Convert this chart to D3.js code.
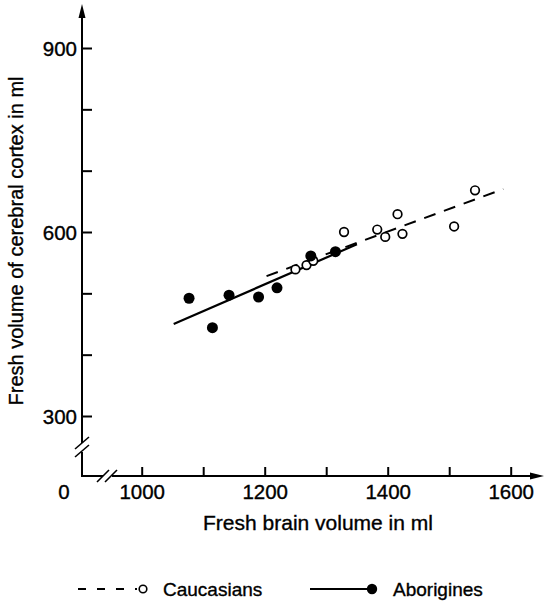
<!DOCTYPE html>
<html>
<head>
<meta charset="utf-8">
<script src="https://cdn.jsdelivr.net/npm/d3@7"></script>
<style>
  html, body { margin: 0; padding: 0; background: #fff; }
  svg { display: block; }
  text { font-family: "Liberation Sans", Arial, Helvetica, sans-serif; fill: #000; stroke: #000; stroke-width: 0.35px; }
</style>
</head>
<body>
<svg id="chart" width="545" height="602"></svg>
<script>
// ---- Data ----
const caucasianX = [1250, 1268, 1279, 1329, 1383, 1396, 1416, 1424, 1508, 1542];
const caucasianY = [539, 546, 553, 600, 604, 592, 629, 597, 609, 668];
const aborigineX = [1077, 1115, 1142, 1190, 1220, 1275, 1315];
const aborigineY = [492, 444, 497, 494, 509, 561, 568];
const caucasianFitX = [1203, 1588];
const caucasianFitY = [528, 670];
const aborigineFitX = [1052, 1350];
const aborigineFitY = [450, 580];
const xTicks = [1000, 1100, 1200, 1300, 1400, 1500, 1600];
const xTickLabels = ["1000", "", "1200", "", "1400", "", "1600"];
const yTicks = [300, 400, 500, 600, 700, 800, 900];
const yTickLabels = ["300", "", "", "600", "", "", "900"];
const seriesNames = ["Caucasians", "Aborigines"];
const xTitle = "Fresh brain volume in ml";
const yTitle = "Fresh volume of cerebral cortex in ml";

// ---- Layout ----
const svg = d3.select("#chart");
const axisX0 = 82, axisY0 = 476;
const x = d3.scaleLinear().domain([1000, 1600]).range([141.7, 510.7]);
const y = d3.scaleLinear().domain([300, 900]).range([416, 48]);
const ink = "#000";
const fontSize = 20.5;
const ff = '"Liberation Sans", Arial, sans-serif';

// Y axis (ticks inward)
const yAxis = d3.axisLeft(y)
  .tickValues(yTicks)
  .tickFormat((d, i) => yTickLabels[i])
  .tickSizeInner(-10).tickSizeOuter(0).tickPadding(5);
const gy = svg.append("g").attr("transform", `translate(${axisX0},0)`).call(yAxis);
gy.select(".domain").remove();
gy.selectAll(".tick line").attr("stroke", ink).attr("stroke-width", 2);
gy.selectAll(".tick text").attr("font-size", fontSize).attr("fill", ink)
  .attr("font-family", ff).attr("dy", "0.36em");

// X axis (ticks inward/up)
const xAxis = d3.axisBottom(x)
  .tickValues(xTicks)
  .tickFormat((d, i) => xTickLabels[i])
  .tickSizeInner(-9).tickSizeOuter(0).tickPadding(8);
const gx = svg.append("g").attr("transform", `translate(0,${axisY0})`).call(xAxis);
gx.select(".domain").remove();
gx.selectAll(".tick line").attr("stroke", ink).attr("stroke-width", 2);
gx.selectAll(".tick text").attr("font-size", fontSize).attr("fill", ink)
  .attr("font-family", ff);

// Axis lines with breaks
const axes = svg.append("g").attr("stroke", ink).attr("stroke-width", 2).attr("fill", "none");
axes.append("line").attr("x1", axisX0).attr("x2", axisX0).attr("y1", 14).attr("y2", 443);
axes.append("line").attr("x1", axisX0).attr("x2", axisX0).attr("y1", 452).attr("y2", axisY0 + 1);
axes.append("line").attr("x1", axisX0 - 1).attr("x2", 103).attr("y1", axisY0).attr("y2", axisY0);
axes.append("line").attr("x1", 112).attr("x2", 536).attr("y1", axisY0).attr("y2", axisY0);
// break slashes
[-4, 4].forEach(d => {
  axes.append("line").attr("x1", axisX0 - 7).attr("y1", 447 + d + 6)
    .attr("x2", axisX0 + 7).attr("y2", 447 + d - 6).attr("stroke-width", 1.6);
});
[-4, 4].forEach(d => {
  axes.append("line").attr("x1", 107 + d - 6).attr("y1", axisY0 + 6)
    .attr("x2", 107 + d + 6).attr("y2", axisY0 - 6).attr("stroke-width", 1.6);
});
// arrowheads
svg.append("path").attr("d", `M${axisX0},4 L${axisX0 - 3.5},18 L${axisX0 + 3.5},18 Z`).attr("fill", ink);
svg.append("path").attr("d", `M544,${axisY0} L530,${axisY0 - 3.5} L530,${axisY0 + 3.5} Z`).attr("fill", ink);

// "0" origin label
svg.append("text").attr("x", 64).attr("y", axisY0 + 8 + fontSize * 0.72)
  .attr("text-anchor", "middle").attr("font-size", fontSize).text("0");

// Titles
svg.append("text").attr("x", 318).attr("y", 530).attr("text-anchor", "middle")
  .attr("font-size", 21).text(xTitle);
svg.append("text").attr("transform", "translate(23,241) rotate(-90)")
  .attr("text-anchor", "middle").attr("font-size", 20).text(yTitle);

// Regression lines
const line = d3.line().x(d => x(d[0])).y(d => y(d[1]));
svg.append("path")
  .datum(caucasianFitX.map((v, i) => [v, caucasianFitY[i]]))
  .attr("d", line).attr("stroke", ink).attr("stroke-width", 2)
  .attr("stroke-dasharray", "12,9").attr("fill", "none");
svg.append("path")
  .datum(aborigineFitX.map((v, i) => [v, aborigineFitY[i]]))
  .attr("d", line).attr("stroke", ink).attr("stroke-width", 2.2).attr("fill", "none");

// Points
svg.append("g").selectAll("circle")
  .data(caucasianX.map((v, i) => [v, caucasianY[i]]))
  .join("circle")
  .attr("cx", d => x(d[0])).attr("cy", d => y(d[1])).attr("r", 4.3)
  .attr("fill", "#fff").attr("stroke", ink).attr("stroke-width", 1.7);
svg.append("g").selectAll("circle")
  .data(aborigineX.map((v, i) => [v, aborigineY[i]]))
  .join("circle")
  .attr("cx", d => x(d[0])).attr("cy", d => y(d[1])).attr("r", 5.5)
  .attr("fill", ink);

// Legend
const lg = svg.append("g");
const ly = 589;
lg.append("line").attr("x1", 78).attr("x2", 137).attr("y1", ly).attr("y2", ly)
  .attr("stroke", ink).attr("stroke-width", 2).attr("stroke-dasharray", "8,11");
lg.append("circle").attr("cx", 143).attr("cy", ly).attr("r", 3.8)
  .attr("fill", "#fff").attr("stroke", ink).attr("stroke-width", 1.6);
lg.append("text").attr("x", 163).attr("y", ly + 7).attr("font-size", 19).text(seriesNames[0]);
lg.append("line").attr("x1", 310).attr("x2", 368).attr("y1", ly).attr("y2", ly)
  .attr("stroke", ink).attr("stroke-width", 2);
lg.append("circle").attr("cx", 372).attr("cy", ly).attr("r", 5.2).attr("fill", ink);
lg.append("text").attr("x", 393).attr("y", ly + 7).attr("font-size", 19).text(seriesNames[1]);
</script>
</body>
</html>
